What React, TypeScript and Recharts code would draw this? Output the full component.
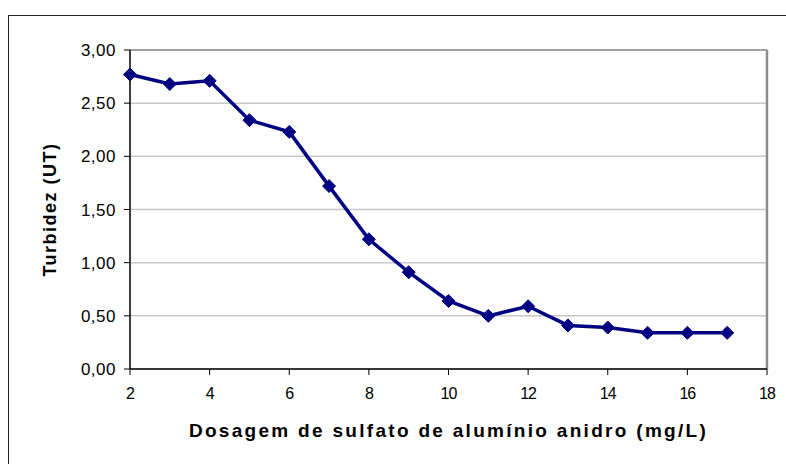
import { LineChart, Line, XAxis, YAxis, CartesianGrid, Label } from 'recharts';

const doses = [2, 3, 4, 5, 6, 7, 8, 9, 10, 11, 12, 13, 14, 15, 16, 17];
const turbidez = [2.77, 2.68, 2.71, 2.34, 2.23, 1.72, 1.22, 0.91, 0.64, 0.5, 0.59, 0.41, 0.39, 0.34, 0.34, 0.34];
const xTicks = [2, 4, 6, 8, 10, 12, 14, 16, 18];
const yTicks = [0, 0.5, 1, 1.5, 2, 2.5, 3];

const data = doses.map((d, i) => ({ dose: d, turb: turbidez[i] }));

const FONT = 'Liberation Sans, Arial, sans-serif';

const Diamond = (props: any) => {
  const { cx, cy } = props;
  if (cx == null || cy == null) return null;
  const r = 6.5;
  return (
    <path
      d={`M${cx},${cy - r} L${cx + r},${cy} L${cx},${cy + r} L${cx - r},${cy} Z`}
      fill="#000080"
      stroke="#000080"
      strokeWidth={1}
    />
  );
};

const XTick = (props: any) => {
  const { x, y, payload } = props;
  return (
    <text x={x} y={y + 22} textAnchor="middle" fill="#000" fontSize={16} letterSpacing={-1} fontFamily={FONT}>
      {payload.value}
    </text>
  );
};

const YTick = (props: any) => {
  const { x, y, payload } = props;
  return (
    <text x={x} y={y + 6} textAnchor="end" fill="#000" fontSize={17} letterSpacing={0.5} fontFamily={FONT}>
      {payload.value.toFixed(2).replace('.', ',')}
    </text>
  );
};

export default function App() {
  return (
    <div style={{ position: 'absolute', left: 0, top: 0, width: 786, height: 464, background: '#fff', fontFamily: FONT }}>
      <div
        style={{
          position: 'absolute',
          left: 8,
          top: 15,
          width: 800,
          height: 480,
          borderTop: '1.5px solid #222',
          borderLeft: '1.5px solid #222',
        }}
      />
      <div style={{ position: 'absolute', left: 0, top: 0 }}>
        <LineChart width={786} height={464} data={data} margin={{ top: 50, right: 19, bottom: 65, left: 60 }}>
          <CartesianGrid horizontal vertical={false} stroke="#c8c8c8" strokeWidth={1.5} />
          <line x1={130} y1={50} x2={767} y2={50} stroke="#8c8c8c" strokeWidth={1.5} />
          <line x1={767} y1={50} x2={767} y2={369} stroke="#8c8c8c" strokeWidth={2.5} />
          <XAxis
            dataKey="dose"
            type="number"
            domain={[2, 18]}
            ticks={xTicks}
            height={30}
            tickSize={6}
            tickMargin={2}
            axisLine={{ stroke: '#000', strokeWidth: 1.5 }}
            tickLine={{ stroke: '#000', strokeWidth: 1 }}
            tick={<XTick />}
          >
            <Label
              value="Dosagem de sulfato de alumínio anidro (mg/L)"
              position="insideBottom"
              offset={-38}
              style={{ fill: '#000', fontSize: 19, fontWeight: 'bold', letterSpacing: 2.3, fontFamily: FONT }}
            />
          </XAxis>
          <YAxis
            dataKey="turb"
            type="number"
            domain={[0, 3]}
            ticks={yTicks}
            width={70}
            tickSize={6}
            tickMargin={8}
            axisLine={{ stroke: '#000', strokeWidth: 1.5 }}
            tickLine={{ stroke: '#000', strokeWidth: 1 }}
            tick={<YTick />}
          >
            <Label
              value="Turbidez (UT)"
              angle={-90}
              position="insideLeft"
              offset={-10}
              style={{ textAnchor: 'middle', fill: '#000', fontSize: 18, fontWeight: 'bold', letterSpacing: 1.5, fontFamily: FONT }}
            />
          </YAxis>
          <Line
            type="linear"
            dataKey="turb"
            stroke="#000080"
            strokeWidth={3.5}
            dot={<Diamond />}
            activeDot={false}
            isAnimationActive={false}
          />
        </LineChart>
      </div>
    </div>
  );
}
